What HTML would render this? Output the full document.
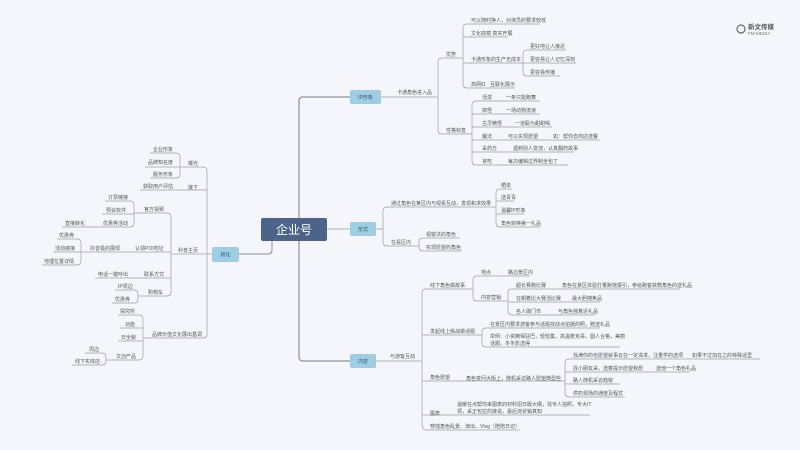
<!DOCTYPE html>
<html><head><meta charset="utf-8"><style>
html,body{margin:0;padding:0;background:#f4f6fb;}
svg{display:block}
text{font-family:"Liberation Sans","Noto Sans CJK SC",sans-serif;font-size:5px;fill:#555}
.l{stroke:#9aa0a8;stroke-width:0.7;fill:none}
</style></head><body>
<svg width="800" height="450" viewBox="0 0 800 450" xmlns="http://www.w3.org/2000/svg">
<rect width="800" height="450" fill="#f4f6fb"/>
<!-- main trunk -->
<path class="l" d="M350 97 H303 Q299 97 299 101 V357 Q299 361 303 361 H350" style="stroke:#8c929a;stroke-width:1.2"/>
<path class="l" d="M299 229 H327" style="stroke:#8c929a;stroke-width:1"/>
<path class="l" d="M350 229 H327"/>
<path class="l" d="M272 240 V250 Q272 254 268 254 H239" style="stroke:#8c929a;stroke-width:1"/>
<!-- central -->
<rect x="261" y="218" width="66" height="23" rx="2" fill="#4c6489"/>
<text x="294" y="234" text-anchor="middle" style="font-size:12px;fill:#fff">企业号</text>
<!-- level1 nodes -->
<rect x="350" y="90" width="31" height="14" rx="2" fill="#9fcde3"/>
<text x="365.5" y="99" text-anchor="middle" style="fill:#2d5877">IP形象</text>
<rect x="350" y="222" width="26" height="14" rx="2" fill="#9fcde3"/>
<text x="363" y="231" text-anchor="middle" style="fill:#2d5877">形式</text>
<rect x="350" y="354" width="26" height="14" rx="2" fill="#9fcde3"/>
<text x="363" y="363" text-anchor="middle" style="fill:#2d5877">内容</text>
<rect x="212" y="247" width="27" height="15" rx="2" fill="#9fcde3"/>
<text x="225.5" y="256.5" text-anchor="middle" style="fill:#2d5877">转化</text>

<!-- IP branch -->
<path class="l" d="M381 97 H438"/>
<text x="397" y="94">卡通角色进入品</text>
<path class="l" d="M438 97 V62 Q438 58 442 58 H460 M438 97 V130 Q438 134 442 134 H470"/>
<text x="446" y="56">优势</text><text x="446" y="132">性格标签</text>
<path class="l" d="M460 58 H463 V28 Q463 24 467 24 H540 M463 37 H508 M463 58 V84 Q463 88 467 88 H515 M463 63 H520"/>
<text x="471" y="22">可以随时换人，对演员的要求较低</text>
<text x="471" y="35">文化底蕴 真实开展</text>
<text x="471" y="61">卡通形象的生产无成本</text>
<text x="471" y="86">高网红</text><text x="490" y="86">互联化展示</text>
<path class="l" d="M520 63 H523 V54 Q523 50 527 50 H566 M523 63 H576 M523 63 V72 Q523 76 527 76 H560"/>
<text x="530" y="48">更好地让人接近</text>
<text x="530" y="61">更容易让人记忆深刻</text>
<text x="530" y="74">更容易传播</text>
<path class="l" d="M470 134 H472 V105 Q472 101 476 101 H540 M472 114 H540 M472 127 H552 M472 140 H600 M472 152 H574 M472 134 V161 Q472 165 476 165 H568"/>
<text x="482" y="99">活泼</text><text x="506" y="99">一条只能跑舞</text>
<text x="482" y="112">搞怪</text><text x="506" y="112">一场动物流浪</text>
<text x="482" y="125">古灵精怪</text><text x="515" y="125">一道聪为甜甜喝</text>
<text x="482" y="138">魔法</text><text x="508" y="138">可以实现愿望</text><text x="553" y="138">如：帮你去商店送餐</text>
<text x="482" y="150">采药方</text><text x="513" y="150">遇到别人变流，认真翻药故事</text>
<text x="482" y="163">贪吃</text><text x="508" y="163">每次编辑过界制全包了</text>

<!-- 形式 branch -->
<path class="l" d="M376 229 H383 V211 Q383 207 387 207 H494 M383 229 V242 Q383 246 387 246 H415"/>
<text x="391" y="205">通过角色在某区内与观看互动，发现和求效果</text>
<text x="391" y="244">在看区内</text>
<path class="l" d="M494 207 H496 V193 Q496 189 500 189 H512 M496 201 H514 M496 214 H524 M496 207 V223 Q496 227 500 227 H540"/>
<text x="501" y="187">晒单</text><text x="501" y="199">送青青</text><text x="501" y="212">温馨IP形象</text><text x="501" y="225">角色转换第一礼品</text>
<path class="l" d="M415 246 H419 V242 Q419 238 423 238 H460 M419 246 V247 Q419 251 423 251 H462"/>
<text x="426" y="236">视窗法的角色</text><text x="426" y="249">实现愿望的角色</text>

<!-- 内容 branch -->
<path class="l" d="M376 361 H422"/>
<text x="390" y="358">与游客互动</text>
<path class="l" d="M422 361 V293 Q422 289 426 289 H472 M422 335 H480 M422 361 V424 Q422 430 426 430 H520 M422 381 H555 M422 415 H590"/>
<text x="430" y="287">线下角色做故事</text>
<text x="430" y="333">发起线上挑战做话题</text>
<text x="430" y="379">角色愿望</text>
<text x="466" y="380">角色变问大街上，随机采访路人愿望典型些</text>
<text x="430" y="415">图表</text>
<text x="457" y="406">温暖在点帮你来图表的材料招日版大纲，找专人拍照，专大IT</text>
<text x="457" y="413">领，采正包拉的接说，最后流状销真知</text>
<text x="430" y="428">穿插角色乱景、演出、Vlog（陪陪日记）</text>
<path class="l" d="M472 289 H473 V280 Q473 276 477 276 H530 M473 289 V297 Q473 301 477 301 H506"/>
<text x="481" y="274">地点</text><text x="508" y="274">路边景区内</text>
<text x="481" y="299">内容营销</text>
<path class="l" d="M506 301 H508 V292 Q508 289 512 289 H680 M508 302 H600 M508 302 V311 Q508 315 512 315 H595"/>
<text x="516" y="287">超长赛跑比赛</text><text x="562" y="287">角色在景区体验打量跑馆报引，参给跑客获赠角色的送礼品</text>
<text x="516" y="300">在朝着比大赛活比赛</text><text x="572" y="300">最大胆摊焦品</text>
<text x="516" y="313">名人做门市</text><text x="558" y="313">与角色摇着近礼品</text>
<path class="l" d="M480 335 H482 V332 Q482 328 486 328 H600 M482 335 V343 Q482 347 486 347 H620"/>
<text x="490" y="326">在景区内要求游客参与话题找动点拍摄的照，赠送礼品</text>
<text x="490" y="338">举例：小资精保驻巴，轻轻集，高温麦克哥，圆人合格，美丽</text>
<text x="490" y="345">话题，冬冬影选得</text>
<path class="l" d="M555 381 H565 V363 Q565 359 569 359 H760 M565 372 H690 M565 384 H620 M565 381 V393 Q565 397 569 397 H625"/>
<text x="573" y="357">找满你的也愿望就事云在一定渴求，注重学的选项</text><text x="692" y="357">如果不过加在之的特殊话里</text>
<text x="573" y="370">找小朋友采，选着提示愿望我想</text><text x="656" y="370">送他一个角色礼品</text>
<text x="573" y="382">路人随机采访趋锐</text>
<text x="573" y="395">供奶现场的通度及程式</text>

<!-- 转化 branch -->
<path class="l" d="M212 254 H171 M207 254 V171 Q207 167 203 167 H184 M207 190 H168 M207 254 V334 Q207 338 203 338 H148"/>
<text x="188" y="165">曝光</text>
<text x="188" y="189">接下</text>
<text x="178" y="252">科普主页</text>
<text x="152" y="336">品牌价值文化展出基调</text>
<path class="l" d="M184 167 H180 V157 Q180 153 176 153 H150 M180 167 H145 M180 167 V174 Q180 178 176 178 H150"/>
<text x="153" y="151">企业形象</text><text x="148" y="164">品牌知名度</text><text x="153" y="176">服务形象</text>
<path class="l" d="M168 190 H140"/><text x="143" y="188">获取用户评估</text>
<path class="l" d="M171 254 V217 Q171 213 167 213 H138 M171 252 H131 M171 278 H131 M171 254 V292 Q171 296 167 296 H140"/>
<text x="144" y="211">官方视频</text><text x="135" y="250">认领POI地址</text><text x="144" y="276">联系方式</text><text x="148" y="294">购物车</text>
<path class="l" d="M138 213 H134 V205 Q134 201 130 201 H105 M134 214 H102 M134 213 V223 Q134 227 130 227 H62"/>
<text x="108" y="199">订票链接</text><text x="106" y="212">预会软件</text><text x="103" y="225">优惠券活动</text><text x="65" y="225">直接转化</text>
<path class="l" d="M131 252 H81 V243 Q81 239 77 239 H57 M81 252 H53 M81 252 V261 Q81 265 77 265 H42"/>
<text x="90" y="250">抖音极的展现</text>
<text x="59" y="237">优惠券</text><text x="55" y="250">活动链接</text><text x="44" y="263">地理位置详情</text>
<path class="l" d="M131 278 H95"/><text x="98" y="276">电话一键呼出</text>
<path class="l" d="M140 296 H138 V294 Q138 290 134 290 H115 M138 296 V299 Q138 303 134 303 H112"/>
<text x="118" y="288">IP周边</text><text x="115" y="301">优惠券</text>
<path class="l" d="M148 338 H143 V319 Q143 315 139 315 H118 M143 328 H120 M143 341 H118 M143 338 V356 Q143 360 139 360 H113"/>
<text x="120" y="313">探究所</text><text x="125" y="326">功能</text><text x="121" y="339">日全貌</text><text x="116" y="358">文创产品</text>
<path class="l" d="M113 360 H106 V357 Q106 353 102 353 H85 M106 360 V361 Q106 365 102 365 H72"/>
<text x="89" y="351">周边</text><text x="75" y="363">线下实体店</text>

<!-- logo -->
<circle cx="741" cy="29" r="4" fill="none" stroke="#666" stroke-width="1.2"/>
<text x="748" y="29" style="font-size:6.5px;fill:#555;font-weight:bold">新文传媒</text>
<text x="748" y="35" style="font-size:4.5px;fill:#777">FM-MEDIA</text>
</svg>
</body></html>
